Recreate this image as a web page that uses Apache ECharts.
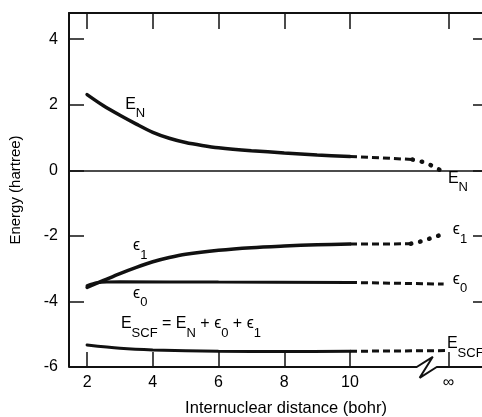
<!DOCTYPE html>
<html lang="en">
  <head>
    <meta charset="UTF-8" />
    <title>Energy vs internuclear distance</title>
    <script src="https://cdn.jsdelivr.net/npm/echarts@6.0.0/dist/echarts.min.js"></script>
    <style>
      html, body { margin: 0; padding: 0; background: #fff; }
      #chart { width: 482px; height: 417px; }
    </style>
  </head>
  <body>
    <div id="chart"></div>
    <script>
      // x axis: R in bohr, the "infinity" end is drawn at INF_X
      const X_MIN = 1.45;
      const X_MAX = 14.23;
      const INF_X = 13;
      const xTicks = [2, 4, 6, 8, 10, INF_X];
      const xTickLabels = ["2", "4", "6", "8", "10", "\u221e"];
      const yTicks = [-6, -4, -2, 0, 2, 4];

      // E_N
      const enSolid = [[2, 2.31], [2.5, 1.97], [3, 1.68], [3.5, 1.41], [4, 1.16], [4.5, 0.98], [5, 0.85], [5.5, 0.76], [6, 0.69], [7, 0.6], [8, 0.53], [9, 0.47], [10, 0.42]];
      const enDashed = [[10, 0.42], [11, 0.38], [11.9, 0.33]];
      const enDotted = [[11.9, 0.33], [12.2, 0.26], [12.45, 0.16], [12.72, 0.02]];
      // epsilon 1
      const e1Solid = [[2, -3.57], [2.5, -3.36], [3, -3.15], [3.5, -2.96], [4, -2.79], [4.5, -2.66], [5, -2.56], [6, -2.44], [7, -2.36], [8, -2.31], [9, -2.27], [10, -2.25]];
      const e1Dashed = [[10, -2.25], [11, -2.25], [11.85, -2.24]];
      const e1Dotted = [[11.85, -2.24], [12.2, -2.16], [12.55, -2.04], [12.88, -1.93]];
      // epsilon 0
      const e0Solid = [[2, -3.52], [2.3, -3.43], [3, -3.4], [6, -3.41], [10, -3.42]];
      const e0Dashed = [[10, -3.42], [12.85, -3.47]];
      // E_SCF
      const scfSolid = [[2, -5.33], [3, -5.43], [4, -5.48], [6, -5.52], [8, -5.53], [10, -5.52]];
      const scfDashed = [[10, -5.52], [12.9, -5.5]];
      // bottom frame with the axis break
      const bottomFrame = [[X_MIN, -6], [12.03, -6], [12.52, -5.69], [12.12, -6.33], [12.64, -6], [X_MAX, -6]];

      // labels: [text, x, y] anchored at left edge / centre of the main glyph
      const labels = [
        ["{b|E}{s|N}", 3.16, 1.99],
        ["{b|E}{s|N}", 12.98, -0.29],
        ["{b|\u03f5}{s|1}", 3.4, -2.34],
        ["{b|\u03f5}{s|0}", 3.4, -3.8],
        ["{b|\u03f5}{s|1}", 13.13, -1.85],
        ["{b|\u03f5}{s|0}", 13.13, -3.35],
        ["{b|E}{s|SCF}", 12.95, -5.33],
        ["{b|E}{s|SCF}{b| = E}{s|N}{b| + \u03f5}{s|0}{b| + \u03f5}{s|1}", 3.03, -4.72],
      ];

      const FONT = "Liberation Sans";
      const INK = "#111";

      function curve(data, type, width) {
        const style = { color: INK, width: width, type: "solid", cap: "round" };
        if (type === "dashed") {
          style.type = [7, 4];
          style.cap = "butt";
        } else if (type === "dotted") {
          style.type = [0.5, 9];
        }
        return {
          type: "line",
          data: data,
          showSymbol: false,
          smooth: type === "solid" ? 0.3 : false,
          lineStyle: style,
          silent: true,
          z: 3,
        };
      }

      const chart = echarts.init(document.getElementById("chart"));

      const tickStyle = { color: INK, width: 1.5 };
      const option = {
        animation: false,
        backgroundColor: "#fff",
        textStyle: { fontFamily: FONT },
        grid: { left: 69, top: 13, right: -7, bottom: 50, containLabel: false, outerBoundsMode: "none" },
        xAxis: [
          {
            type: "value",
            position: "bottom",
            min: X_MIN,
            max: X_MAX,
            axisLine: { show: false, onZero: false },
            axisTick: { inside: true, length: 15, customValues: xTicks, lineStyle: tickStyle },
            axisLabel: {
              customValues: xTicks,
              margin: 8,
              color: "#000",
              fontSize: 16,
              fontFamily: FONT,
              formatter: function (v) {
                const i = xTicks.indexOf(v);
                return i >= 0 ? xTickLabels[i] : "";
              },
            },
            splitLine: { show: false },
            name: "Internuclear distance (bohr)",
            nameLocation: "middle",
            nameGap: 33,
            nameTextStyle: { color: "#000", fontSize: 16.5, fontFamily: FONT, padding: [0, 0, 0, 14] },
          },
          {
            type: "value",
            position: "top",
            min: X_MIN,
            max: X_MAX,
            axisLine: { show: true, onZero: false, lineStyle: { color: INK, width: 2 } },
            axisTick: { inside: true, length: 16, customValues: xTicks, lineStyle: tickStyle },
            axisLabel: { show: false },
            splitLine: { show: false },
          },
        ],
        yAxis: [
          {
            type: "value",
            position: "left",
            min: -6,
            max: 4.8,
            interval: 2,
            axisLine: { show: true, onZero: false, lineStyle: { color: INK, width: 2 } },
            axisTick: { inside: true, length: 15, customValues: yTicks, lineStyle: tickStyle },
            axisLabel: { customValues: yTicks, margin: 11, color: "#000", fontSize: 16, fontFamily: FONT },
            splitLine: { show: false },
            name: "Energy (hartree)",
            nameLocation: "middle",
            nameGap: 46,
            nameTextStyle: { color: "#000", fontSize: 15, fontFamily: FONT },
          },
          {
            type: "value",
            position: "right",
            min: -6,
            max: 4.8,
            interval: 2,
            axisLine: { show: true, onZero: false, lineStyle: { color: INK, width: 2 } },
            axisTick: { inside: true, length: 16, customValues: yTicks, lineStyle: tickStyle },
            axisLabel: { show: false },
            splitLine: { show: false },
          },
        ],
        series: [
          {
            type: "line",
            data: bottomFrame,
            showSymbol: false,
            clip: false,
            silent: true,
            lineStyle: { color: INK, width: 2 },
            z: 4,
            markLine: {
              silent: true,
              symbol: "none",
              label: { show: false },
              lineStyle: { color: INK, width: 1.5, type: "solid" },
              data: [{ yAxis: 0 }],
            },
          },
          curve(enSolid, "solid", 3.5),
          curve(enDashed, "dashed", 3),
          curve(enDotted, "dotted", 4.5),
          curve(e1Solid, "solid", 3.5),
          curve(e1Dashed, "dashed", 3),
          curve(e1Dotted, "dotted", 4.5),
          curve(e0Solid, "solid", 3),
          curve(e0Dashed, "dashed", 3),
          curve(scfSolid, "solid", 3),
          curve(scfDashed, "dashed", 3),
        ],
      };
      chart.setOption(option);

      // text annotations, placed from data coordinates
      const rich = {
        b: { fontSize: 16, lineHeight: 18, verticalAlign: "top", fontFamily: FONT, fill: "#000", color: "#000" },
        s: { fontSize: 13, lineHeight: 34, verticalAlign: "middle", fontFamily: FONT, fill: "#000", color: "#000" },
      };
      const graphic = labels.map(function (l) {
        const p = chart.convertToPixel({ xAxisIndex: 0, yAxisIndex: 0 }, [l[1], l[2]]);
        return {
          type: "text",
          x: p[0],
          y: p[1] - 9,
          silent: true,
          z: 10,
          style: { text: l[0], rich: rich, fill: "#000", align: "left", verticalAlign: "top", fontFamily: FONT },
        };
      });
      chart.setOption({ graphic: graphic });
    </script>
  </body>
</html>
